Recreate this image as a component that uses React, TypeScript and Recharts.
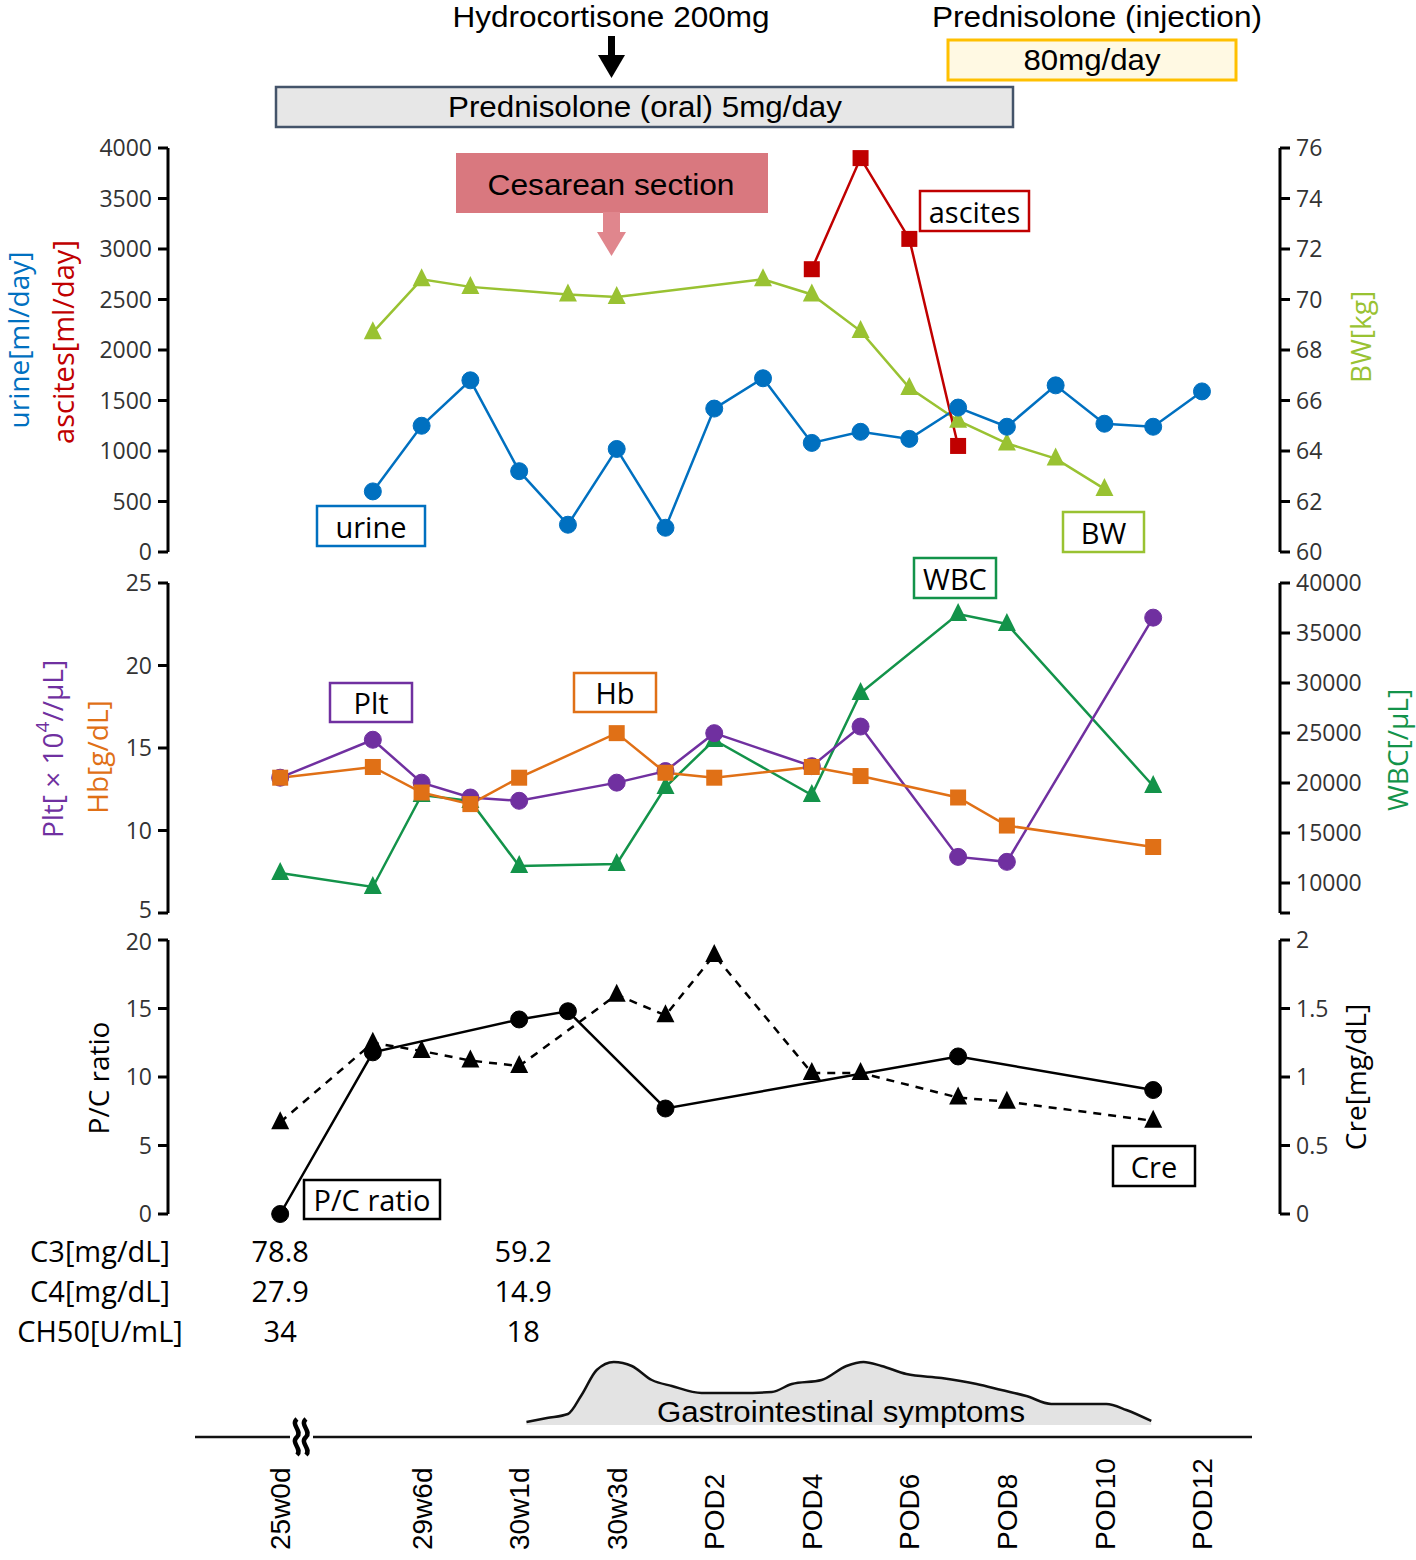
import React from 'react'
import { ComposedChart, Line, Area, XAxis, YAxis } from 'recharts'

// day offset from the cesarean section (30w3d = 0); 25w0d sits before the axis break
const days = [-6.9, -5, -4, -3, -2, -1, 0, 1, 2, 3, 4, 5, 6, 7, 8, 9, 10, 11, 12]

const urine = [null, 600, 1250, 1700, 800, 270, 1020, 240, 1420, 1720, 1080, 1190, 1120, 1430, 1240, 1650, 1270, 1240, 1590]
const ascites = [null, null, null, null, null, null, null, null, null, null, 2800, 3900, 3100, 1050, null, null, null, null, null]
const bw = [null, 68.7, 70.8, 70.5, null, 70.2, 70.1, null, null, 70.8, 70.2, 68.75, 66.5, 65.2, 64.3, 63.7, 62.5, null, null]

const plt = [13.2, 15.5, 12.9, 12.0, 11.8, null, 12.9, 13.6, 15.9, null, 13.9, 16.3, null, 8.4, 8.1, null, null, 22.9, null]
const hb = [13.2, 13.85, 12.3, 11.6, 13.2, null, 15.9, 13.5, 13.2, null, 13.85, 13.3, null, 12.0, 10.3, null, null, 9.0, null]
const wbc = [11000, 9600, 18800, 18200, 11700, null, 11900, 19600, 24300, null, 18800, 29000, null, 36900, 35900, null, null, 19700, null]

const pcRatio = [0, 11.8, null, null, 14.2, 14.8, null, 7.7, null, null, null, null, null, 11.5, null, null, null, 9.05, null]
const cre = [0.67, 1.25, 1.19, 1.12, 1.08, null, 1.6, 1.45, 1.89, null, 1.03, 1.03, null, 0.85, 0.82, null, null, 0.68, null]

const giDays = [-1.85, -1.43, -1.0, -0.72, -0.41, -0.06, 0.31, 0.72, 1.13, 1.74, 2.56, 3.18, 3.59, 4.2, 4.71, 5.06, 5.43, 5.94, 6.66, 7.38, 7.89, 8.4, 8.91, 9.53, 10.04, 10.45, 10.96]
const giLevel = [3, 7, 11, 30, 55, 63, 59, 45, 39, 32, 32, 33, 41, 45, 59, 63, 59, 51, 47, 41, 35, 29, 21, 21, 21, 15, 4]

const xTicks = [-6.9, -4, -2, 0, 2, 4, 6, 8, 10, 12]
const xTickLabels = ['25w0d', '29w6d', '30w1d', '30w3d', 'POD2', 'POD4', 'POD6', 'POD8', 'POD10', 'POD12']

const complementRows = ['C3[mg/dL]', 'C4[mg/dL]', 'CH50[U/mL]']
const complementDays = [-6.9, -2]
const complementValues = [
  ['78.8', '59.2'],
  ['27.9', '14.9'],
  ['34', '18'],
]

const rows = days.map((day, i) => ({
  day,
  urine: urine[i],
  ascites: ascites[i],
  bw: bw[i],
  plt: plt[i],
  hb: hb[i],
  wbc: wbc[i],
  pcRatio: pcRatio[i],
  cre: cre[i],
}))
const giRows = giDays.map((day, i) => ({ day, level: giLevel[i] }))

const X_MIN = -9.2
const X_MAX = 13.6
const PLOT_LEFT = 168
const PLOT_RIGHT = 1280
const xPx = (d: number) => PLOT_LEFT + ((d - X_MIN) / (X_MAX - X_MIN)) * (PLOT_RIGHT - PLOT_LEFT)

const C = {
  urine: '#0070c0',
  ascites: '#c00000',
  bw: '#99c232',
  plt: '#7030a0',
  hb: '#e07016',
  wbc: '#13934a',
}

const SEGOE = '"Open Sans", "Noto Sans", sans-serif'
const ARIAL = '"Liberation Sans", Arial, sans-serif'
const AXIS = { stroke: '#000', strokeWidth: 3 }
const TICK = { fill: '#333', fontSize: 23, fontFamily: SEGOE }

const makeSquare = (color: string) => (props: any) => {
  const { cx, cy, index } = props
  if (cx == null || cy == null || isNaN(cy)) return <g key={`s-${index}`} />
  return <rect key={`s-${index}`} x={cx - 8} y={cy - 8} width={16} height={16} fill={color} />
}

const makeTriangle = (color: string) => (props: any) => {
  const { cx, cy, index } = props
  if (cx == null || cy == null || isNaN(cy)) return <g key={`t-${index}`} />
  return (
    <polygon
      key={`t-${index}`}
      points={`${cx},${cy - 11} ${cx - 9},${cy + 7} ${cx + 9},${cy + 7}`}
      fill={color}
    />
  )
}

const circle = (color: string) => ({ r: 8.5, fill: color, stroke: color, strokeWidth: 1 })

// left tick text; the panel-end labels get nudged apart a little where panels meet
const leftTick = (nudge: Record<number, number>) => (props: any) => {
  const { x, y, payload } = props
  return (
    <text x={x} y={y + (nudge[payload.value] || 0)} dy="0.355em" textAnchor="end" fill={TICK.fill} fontSize={TICK.fontSize} fontFamily={TICK.fontFamily}>
      {payload.value}
    </text>
  )
}

function LeftAxis({ domain, ticks, nudge = {} }: { domain: number[]; ticks: number[]; nudge?: Record<number, number> }) {
  return (
    <YAxis
      yAxisId="l"
      orientation="left"
      width={PLOT_LEFT}
      type="number"
      domain={domain}
      ticks={ticks}
      interval={0}
      axisLine={AXIS}
      tickLine={AXIS}
      tickSize={10}
      tickMargin={6}
      tick={leftTick(nudge)}
    />
  )
}

const xHidden = <XAxis type="number" dataKey="day" domain={[X_MIN, X_MAX]} hide />

function XTick(props: any) {
  const { x, payload } = props
  const idx = xTicks.indexOf(payload.value)
  return (
    <text
      transform={`translate(${x},220) rotate(-90)`}
      textAnchor="start"
      dy="0.36em"
      fill="#000"
      fontSize={28}
      fontFamily={ARIAL}
    >
      {xTickLabels[idx]}
    </text>
  )
}

function Box({ x, y, w, h, stroke, fill = '#fff', text, size = 29, sw = 2.5, font = SEGOE }: any) {
  return (
    <g>
      <rect x={x} y={y} width={w} height={h} fill={fill} stroke={stroke} strokeWidth={sw} />
      <text x={x + w / 2} y={y + h / 2} textAnchor="middle" dominantBaseline="central" fontSize={size} fontFamily={font} fill="#000">
        {text}
      </text>
    </g>
  )
}

function VText({ x, y, color, size = 28, children }: any) {
  return (
    <text
      transform={`translate(${x},${y}) rotate(-90)`}
      textAnchor="middle"
      dominantBaseline="central"
      fill={color}
      fontSize={size}
      fontFamily={SEGOE}
    >
      {children}
    </text>
  )
}

export default function App() {
  return (
    <div style={{ position: 'absolute', left: 0, top: 0, width: 1416, height: 1560, background: '#fff', fontFamily: SEGOE }}>
      {/* urine / ascites / BW */}
      <div style={{ position: 'absolute', left: 0, top: 128 }}>
        <ComposedChart width={1416} height={444} data={rows} margin={{ top: 20, right: 0, bottom: 20, left: 0 }}>
          {xHidden}
          <LeftAxis domain={[0, 4000]} ticks={[0, 500, 1000, 1500, 2000, 2500, 3000, 3500, 4000]} />
          <YAxis
            yAxisId="r"
            orientation="right"
            width={1416 - PLOT_RIGHT}
            type="number"
            domain={[60, 76]}
            ticks={[60, 62, 64, 66, 68, 70, 72, 74, 76]}
            interval={0}
            axisLine={AXIS}
            tickLine={AXIS}
            tickSize={10}
            tickMargin={6}
            tick={TICK}
          />
          <Line yAxisId="r" dataKey="bw" stroke={C.bw} strokeWidth={2.5} dot={makeTriangle(C.bw)} activeDot={false} connectNulls isAnimationActive={false} />
          <Line yAxisId="l" dataKey="urine" stroke={C.urine} strokeWidth={2.5} dot={circle(C.urine)} activeDot={false} connectNulls isAnimationActive={false} />
          <Line yAxisId="l" dataKey="ascites" stroke={C.ascites} strokeWidth={2.5} dot={makeSquare(C.ascites)} activeDot={false} connectNulls isAnimationActive={false} />
        </ComposedChart>
      </div>

      {/* Plt / Hb / WBC */}
      <div style={{ position: 'absolute', left: 0, top: 563 }}>
        <ComposedChart width={1416} height={370} data={rows} margin={{ top: 20, right: 0, bottom: 20, left: 0 }}>
          {xHidden}
          <LeftAxis domain={[5, 25]} ticks={[5, 10, 15, 20, 25]} nudge={{ 5: -3 }} />
          <YAxis
            yAxisId="r"
            orientation="right"
            width={1416 - PLOT_RIGHT}
            type="number"
            domain={[7000, 40000]}
            ticks={[7000, 10000, 15000, 20000, 25000, 30000, 35000, 40000]}
            tickFormatter={(v: number) => (v === 7000 ? '' : String(v))}
            interval={0}
            axisLine={AXIS}
            tickLine={AXIS}
            tickSize={10}
            tickMargin={6}
            tick={TICK}
          />
          <Line yAxisId="r" dataKey="wbc" stroke={C.wbc} strokeWidth={2.5} dot={makeTriangle(C.wbc)} activeDot={false} connectNulls isAnimationActive={false} />
          <Line yAxisId="l" dataKey="plt" stroke={C.plt} strokeWidth={2.5} dot={circle(C.plt)} activeDot={false} connectNulls isAnimationActive={false} />
          <Line yAxisId="l" dataKey="hb" stroke={C.hb} strokeWidth={2.5} dot={makeSquare(C.hb)} activeDot={false} connectNulls isAnimationActive={false} />
        </ComposedChart>
      </div>

      {/* P/C ratio / Cre */}
      <div style={{ position: 'absolute', left: 0, top: 920 }}>
        <ComposedChart width={1416} height={314} data={rows} margin={{ top: 20, right: 0, bottom: 20, left: 0 }}>
          {xHidden}
          <LeftAxis domain={[0, 20]} ticks={[0, 5, 10, 15, 20]} nudge={{ 20: 2 }} />
          <YAxis
            yAxisId="r"
            orientation="right"
            width={1416 - PLOT_RIGHT}
            type="number"
            domain={[0, 2]}
            ticks={[0, 0.5, 1, 1.5, 2]}
            interval={0}
            axisLine={AXIS}
            tickLine={AXIS}
            tickSize={10}
            tickMargin={6}
            tick={TICK}
          />
          <Line yAxisId="r" dataKey="cre" stroke="#000" strokeWidth={2.5} strokeDasharray="8 7" dot={makeTriangle('#000')} activeDot={false} connectNulls isAnimationActive={false} />
          <Line yAxisId="l" dataKey="pcRatio" stroke="#000" strokeWidth={2.5} dot={circle('#000')} activeDot={false} connectNulls isAnimationActive={false} />
        </ComposedChart>
      </div>

      {/* Gastrointestinal symptoms + time axis */}
      <div style={{ position: 'absolute', left: 0, top: 1330 }}>
        <ComposedChart width={1416} height={227} data={giRows} margin={{ top: 10, right: 1416 - PLOT_RIGHT, bottom: 0, left: PLOT_LEFT }}>
          <XAxis
            type="number"
            dataKey="day"
            domain={[X_MIN, X_MAX]}
            ticks={xTicks}
            interval={0}
            height={120}
            axisLine={false}
            tickLine={false}
            tick={<XTick />}
          />
          <YAxis type="number" domain={[-12, 85]} hide />
          <Area type="monotone" dataKey="level" stroke="#111" strokeWidth={2.5} fill="#e3e3e3" fillOpacity={1} dot={false} activeDot={false} isAnimationActive={false} />
        </ComposedChart>
      </div>

      {/* annotations */}
      <svg width={1416} height={1560} style={{ position: 'absolute', left: 0, top: 0, pointerEvents: 'none' }}>
        {/* treatment bars */}
        <text x={611} y={27} textAnchor="middle" fontSize={30} fontFamily={ARIAL} textLength={317} lengthAdjust="spacingAndGlyphs">Hydrocortisone 200mg</text>
        <rect x={608} y={36} width={7} height={22} fill="#000" />
        <polygon points="598,55 625,55 611.5,78" fill="#000" />
        <rect x={276} y={87} width={737} height={40} fill="#e7e7e7" stroke="#44546a" strokeWidth={2.5} />
        <text x={645} y={117} textAnchor="middle" fontSize={30} fontFamily={ARIAL} textLength={394} lengthAdjust="spacingAndGlyphs">Prednisolone (oral) 5mg/day</text>
        <text x={1097} y={27} textAnchor="middle" fontSize={30} fontFamily={ARIAL} textLength={330} lengthAdjust="spacingAndGlyphs">Prednisolone (injection)</text>
        <rect x={948} y={40} width={288} height={40} fill="#fff9e3" stroke="#ffc000" strokeWidth={3} />
        <text x={1092} y={70} textAnchor="middle" fontSize={30} fontFamily={ARIAL} textLength={137} lengthAdjust="spacingAndGlyphs">80mg/day</text>

        {/* cesarean section */}
        <rect x={456} y={153} width={312} height={60} fill="#d9787f" />
        <text x={611} y={195} textAnchor="middle" fontSize={30} fontFamily={ARIAL} textLength={247} lengthAdjust="spacingAndGlyphs">Cesarean section</text>
        <rect x={603} y={212} width={17} height={21} fill="#e0868d" />
        <polygon points="597,232 626,232 611.5,256" fill="#e0868d" />

        {/* series labels */}
        <Box x={317} y={506} w={108} h={40} stroke={C.urine} text="urine" />
        <Box x={920} y={191} w={109} h={40} stroke={C.ascites} text="ascites" />
        <Box x={1063} y={512} w={81} h={40} stroke={C.bw} text="BW" />
        <Box x={330} y={683} w={82} h={39} stroke={C.plt} text="Plt" />
        <Box x={574} y={673} w={82} h={39} stroke={C.hb} text="Hb" />
        <Box x={914} y={558} w={82} h={40} stroke={C.wbc} text="WBC" />
        <Box x={304} y={1180} w={136} h={39} stroke="#000" text="P/C ratio" />
        <Box x={1113} y={1146} w={82} h={40} stroke="#000" text="Cre" />

        {/* axis titles */}
        <VText x={18} y={340} color={C.urine}>urine[ml/day]</VText>
        <VText x={62} y={342} color={C.ascites} size={29}>ascites[ml/day]</VText>
        <VText x={1360} y={337} color={C.bw}>BW[kg]</VText>
        <VText x={52} y={749} color={C.plt}>
          {'Plt[ × 10'}
          <tspan dy={-10} fontSize={19}>4</tspan>
          <tspan dy={10}>{'//μL]'}</tspan>
        </VText>
        <VText x={97} y={757} color={C.hb}>Hb[g/dL]</VText>
        <VText x={1397} y={750} color={C.wbc}>WBC[/μL]</VText>
        <VText x={98} y={1078} color="#000">P/C ratio</VText>
        <VText x={1355} y={1077} color="#000">Cre[mg/dL]</VText>

        {/* complement table */}
        {complementRows.map((label, r) => (
          <g key={label}>
            <text x={100} y={1262 + r * 40} textAnchor="middle" fontSize={29} fontFamily={SEGOE} fill="#000">{label}</text>
            {complementDays.map((d, c) => (
              <text key={c} x={xPx(d) + (c === 1 ? 4 : 0)} y={1262 + r * 40} textAnchor="middle" fontSize={29} fontFamily={SEGOE} fill="#000">
                {complementValues[r][c]}
              </text>
            ))}
          </g>
        ))}

        {/* gastrointestinal label */}
        <text x={841} y={1422} textAnchor="middle" fontSize={30} fontFamily={ARIAL} textLength={368} lengthAdjust="spacingAndGlyphs">Gastrointestinal symptoms</text>

        {/* time axis with break */}
        <line x1={195} y1={1437} x2={290} y2={1437} stroke="#111" strokeWidth={2.5} />
        <line x1={313} y1={1437} x2={1252} y2={1437} stroke="#111" strokeWidth={2.5} />
        <path d="M297 1419 c -7 6, 6 12, 0 18 c -7 6, 6 12, 0 18" fill="none" stroke="#000" strokeWidth={4.5} />
        <path d="M306 1419 c -7 6, 6 12, 0 18 c -7 6, 6 12, 0 18" fill="none" stroke="#000" strokeWidth={4.5} />
      </svg>
    </div>
  )
}
